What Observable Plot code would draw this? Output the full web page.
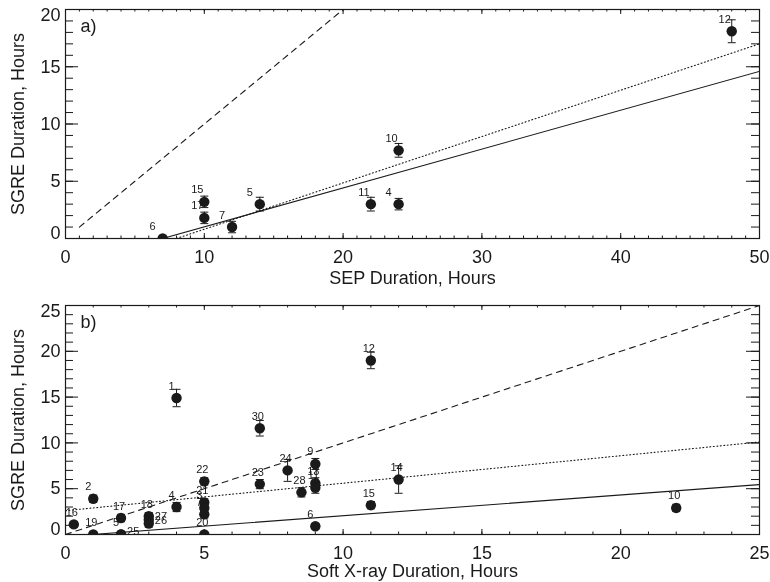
<!DOCTYPE html>
<html><head><meta charset="utf-8">
<script src="https://cdn.jsdelivr.net/npm/d3@7"></script>
<script src="https://cdn.jsdelivr.net/npm/@observablehq/plot@0.6"></script>
<style>body{margin:0;background:#fff;} #chart svg{display:block; will-change: transform;}</style>
</head><body><div id="chart"></div>
<script>
// ---- Panel a) data: SEP duration vs SGRE duration ----
const aLabels = ["6","17","15","7","5","11","4","10","12"];
const aSEP    = [7, 10, 10, 12, 14, 22, 24, 24, 48];
const aSGRE   = [0, 1.8, 3.2, 1.0, 3.0, 3.0, 3.0, 7.7, 18.1];
const aErr    = [0, 0.5, 0.5, 0.5, 0.6, 0.6, 0.5, 0.6, 1.0];
// fitted / reference lines (endpoints)
const aSolidX = [7, 50],  aSolidY = [0, 14.6];
const aDotX   = [8, 50],  aDotY   = [0, 17.0];
const aDashX  = [1, 20],  aDashY  = [1, 20];
const aXTicks = [0, 10, 20, 30, 40, 50];
const aYTicks = [0, 5, 10, 15, 20];

// ---- Panel b) data: Soft X-ray duration vs SGRE duration ----
const bLabels = ["16","2","19","17","5","25","18","27","26","4","1","22","21","3","7","20","30","23","24","28","9","13","11","6","15","12","14","10"];
const bSXR    = [0.3, 1, 1, 2, 2, 2, 3, 3, 3, 4, 4, 5, 5, 5, 5, 5, 7, 7, 8, 8.5, 9, 9, 9, 9, 11, 11, 12, 22];
const bSGRE   = [1.1, 3.9, 0, 1.8, 0, 0, 2.0, 1.6, 1.2, 3.0, 14.9, 5.8, 3.5, 2.9, 2.2, 0, 11.6, 5.5, 7.0, 4.6, 7.7, 5.6, 5.1, 0.9, 3.2, 19.0, 6.0, 2.9];
const bErr    = [0.3, 0.4, 0, 0.4, 0, 0, 0.4, 0.4, 0.4, 0.5, 0.95, 0.4, 0.4, 0.4, 0.4, 0, 0.85, 0.5, 1.2, 0.5, 0.6, 0.6, 0.6, 0.3, 0.4, 0.9, 1.5, 0.4];
const bSolidX = [1.2, 25], bSolidY = [0.05, 5.45];
const bDotX   = [0, 25],   bDotY   = [2.6, 10.1];
const bDashX  = [0, 25],   bDashY  = [0, 25];
const bXTicks = [0, 5, 10, 15, 20, 25];
const bYTicks = [0, 5, 10, 15, 20, 25];
const rightLabels = new Set(["25", "27", "26"]);

const INK = "#1a1a1a";
const W = 770, ML = 65, MR = 11;
const capSymbol = {draw(ctx) { ctx.moveTo(-4, 0); ctx.lineTo(4, 0); }};

function toPts(labels, xs, ys, es) {
  return labels.map((l, i) => ({label: l, x: xs[i], y: ys[i], e: es[i]}));
}
function toLine(xs, ys) { return xs.map((x, i) => ({x, y: ys[i]})); }

function panel(o) {
  const pts = o.pts;
  const withErr = pts.filter(d => d.e > 0);
  const [x0, x1] = o.xDomain, [y0, y1] = o.yDomain;
  const xMinor = d3.range(x0, x1 + 1e-9, o.xMinorStep);
  const yMinor = d3.range(y0, y1 + 1e-9, o.yMinorStep);
  const yMid = o.yTicks.slice(1, -1);
  const labelsL = pts.filter(d => !(o.allowRight && rightLabels.has(d.label)));
  const labelsR = o.allowRight ? pts.filter(d => rightLabels.has(d.label)) : [];
  const one = labelsL.filter(d => d.label.length === 1);
  const two = labelsL.filter(d => d.label.length === 2);
  const innerW = W - ML - MR;
  const innerH = o.height - o.marginTop - o.marginBottom;
  // inward tick helpers (length in px)
  const tickBottom = (t, len) => Plot.tickX(t, {x: d => d, insetTop: innerH - len, stroke: INK, strokeWidth: 1});
  const tickTop = (t, len) => Plot.tickX(t, {x: d => d, insetBottom: innerH - len, stroke: INK, strokeWidth: 1});
  const tickLeft = (t, len) => Plot.tickY(t, {y: d => d, insetRight: innerW - len, stroke: INK, strokeWidth: 1});
  const tickRight = (t, len) => Plot.tickY(t, {y: d => d, insetLeft: innerW - len, stroke: INK, strokeWidth: 1});
  return Plot.plot({
    width: W, height: o.height,
    marginTop: o.marginTop, marginBottom: o.marginBottom, marginLeft: ML, marginRight: MR,
    x: {domain: o.xDomain, axis: null},
    y: {domain: o.yDomain, axis: null},
    style: {fontFamily: "'Liberation Sans', Arial, sans-serif", fontSize: "18px", color: INK, background: "transparent"},
    marks: [
      // lines
      Plot.line(toLine(o.solid[0], o.solid[1]), {x: "x", y: "y", stroke: INK, strokeWidth: 1.1, clip: true}),
      Plot.line(toLine(o.dot[0], o.dot[1]), {x: "x", y: "y", stroke: INK, strokeWidth: 1.1, strokeDasharray: "1,2.5", clip: true}),
      Plot.line(toLine(o.dash[0], o.dash[1]), {x: "x", y: "y", stroke: INK, strokeWidth: 1.1, strokeDasharray: "6,5", clip: true}),
      // error bars
      Plot.ruleX(withErr, {x: "x", y1: d => d.y - d.e, y2: d => d.y + d.e, stroke: INK, strokeWidth: 1, clip: true}),
      Plot.dot(withErr, {x: "x", y: d => d.y + d.e, symbol: capSymbol, stroke: INK, strokeWidth: 1, clip: true}),
      Plot.dot(withErr, {x: "x", y: d => d.y - d.e, symbol: capSymbol, stroke: INK, strokeWidth: 1, clip: true}),
      // points
      Plot.dot(pts, {x: "x", y: "y", r: 5.2, fill: INK, stroke: null, clip: true}),
      // point labels
      Plot.text(two, {x: "x", y: "y", text: "label", fontSize: 11, dx: o.dx2, dy: -12, fill: INK}),
      Plot.text(one, {x: "x", y: "y", text: "label", fontSize: 11, dx: o.dx1, dy: -12, fill: INK}),
      Plot.text(labelsR, {x: "x", y: "y", text: "label", fontSize: 11, textAnchor: "start", dx: 6, dy: -3, fill: INK}),
      // frame
      Plot.frame({stroke: INK, strokeWidth: 1.2}),
      // ticks (inward, on all four sides)
      tickBottom(xMinor, 2.5), tickBottom(o.xTicks, 5),
      tickTop(xMinor, 2.5), tickTop(o.xTicks, 5),
      tickLeft(yMinor, 8), tickLeft(o.yTicks, 13),
      tickRight(yMinor, 8), tickRight(o.yTicks, 13),
      // tick labels
      Plot.text(o.xTicks, {x: d => d, frameAnchor: "bottom", lineAnchor: "top", dy: 12, fontSize: 18, fill: INK}),
      Plot.text(yMid, {y: d => d, frameAnchor: "left", textAnchor: "end", lineAnchor: "middle", dx: -5, fontSize: 18, fill: INK}),
      Plot.text([o.yTicks[0]], {y: d => d, frameAnchor: "left", textAnchor: "end", lineAnchor: "middle", dx: -5, dy: -5.5, fontSize: 18, fill: INK}),
      Plot.text([o.yTicks[o.yTicks.length - 1]], {y: d => d, frameAnchor: "left", textAnchor: "end", lineAnchor: "middle", dx: -5, dy: 6, fontSize: 18, fill: INK}),
      // axis titles
      Plot.text([o.xTitle], {frameAnchor: "bottom", textAnchor: "middle", lineAnchor: "middle", dy: o.titleDy, fontSize: 18, fill: INK}),
      Plot.text([o.yTitle], {frameAnchor: "left", textAnchor: "middle", lineAnchor: "middle", rotate: -90, dx: -47, fontSize: 18, fill: INK}),
      // panel tag
      Plot.text([o.tag], {frameAnchor: "top-left", textAnchor: "start", lineAnchor: "middle", dx: 15, dy: 17, fontSize: 18, fill: INK})
    ]
  });
}

const chart = document.getElementById("chart");
chart.append(panel({
  pts: toPts(aLabels, aSEP, aSGRE, aErr),
  xDomain: [0, 50], yDomain: [0, 20], xMinorStep: 1, yMinorStep: 1,
  xTicks: aXTicks, yTicks: aYTicks,
  solid: [aSolidX, aSolidY], dot: [aDotX, aDotY], dash: [aDashX, aDashY],
  height: 290, marginTop: 9, marginBottom: 52, titleDy: 40,
  xTitle: "SEP Duration, Hours", yTitle: "SGRE Duration, Hours", tag: "a)",
  dx1: -10, dx2: -7, allowRight: false
}));
chart.append(panel({
  pts: toPts(bLabels, bSXR, bSGRE, bErr),
  xDomain: [0, 25], yDomain: [0, 25], xMinorStep: 1, yMinorStep: 1,
  xTicks: bXTicks, yTicks: bYTicks,
  solid: [bSolidX, bSolidY], dot: [bDotX, bDotY], dash: [bDashX, bDashY],
  height: 292, marginTop: 15, marginBottom: 48, titleDy: 37,
  xTitle: "Soft X-ray Duration, Hours", yTitle: "SGRE Duration, Hours", tag: "b)",
  dx1: -5, dx2: -2, allowRight: true
}));
</script>
</body></html>
